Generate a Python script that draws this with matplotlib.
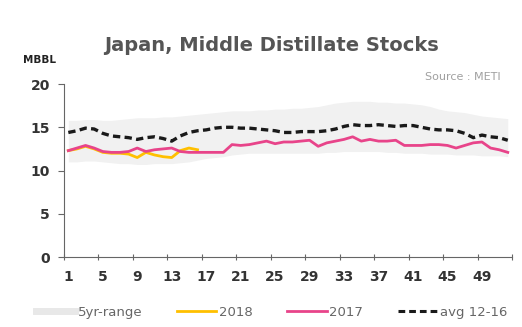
import matplotlib.pyplot as plt
from matplotlib.lines import Line2D

weeks = list(range(1, 53))

range_low = [11.0, 11.0, 11.1, 11.1, 11.0, 10.9, 10.8, 10.8, 10.7, 10.7, 10.8, 10.8, 10.8, 10.9,
             11.0, 11.2, 11.4, 11.5, 11.6, 11.8, 11.9, 12.0, 12.0, 12.0, 12.0, 12.0, 12.0, 12.0,
             12.0, 12.0, 12.1, 12.1, 12.2, 12.2, 12.2, 12.2, 12.2, 12.1, 12.1, 12.0, 12.0, 12.0,
             11.9, 11.9, 11.9, 11.8, 11.8, 11.8, 11.7, 11.7, 11.7, 11.6]
range_high = [15.8, 15.8, 15.9, 15.9, 15.8, 15.8, 15.9, 16.0, 16.1, 16.1, 16.1, 16.2, 16.2, 16.3,
              16.4, 16.5, 16.6, 16.7, 16.8, 16.9, 16.9, 16.9, 17.0, 17.0, 17.1, 17.1, 17.2, 17.2,
              17.3, 17.4, 17.6, 17.8, 17.9, 18.0, 18.0, 18.0, 17.9, 17.9, 17.8, 17.8, 17.7, 17.6,
              17.4, 17.1, 16.9, 16.8, 16.7, 16.5, 16.3, 16.2, 16.1, 16.0]

stocks_2018 = [12.3, 12.5, 12.8, 12.5, 12.1, 12.0, 12.0, 11.9, 11.5, 12.1, 11.8, 11.6, 11.5, 12.3,
               12.6, 12.4]

stocks_2017 = [12.3, 12.6, 12.9, 12.6, 12.2, 12.1, 12.1, 12.2, 12.6, 12.2, 12.4, 12.5, 12.6, 12.2,
               12.1, 12.1, 12.1, 12.1, 12.1, 13.0, 12.9, 13.0, 13.2, 13.4, 13.1, 13.3, 13.3, 13.4,
               13.5, 12.8, 13.2, 13.4, 13.6, 13.9, 13.4, 13.6, 13.4, 13.4, 13.5, 12.9, 12.9, 12.9,
               13.0, 13.0, 12.9, 12.6, 12.9, 13.2, 13.3, 12.6, 12.4, 12.1]

avg_12_16 = [14.4, 14.6, 14.9, 14.8, 14.3, 14.0, 13.9, 13.8, 13.6, 13.8, 13.9, 13.7, 13.4, 14.0,
             14.4, 14.6, 14.7, 14.9, 15.0, 15.0, 14.9, 14.9, 14.8, 14.7, 14.6, 14.4, 14.4, 14.5,
             14.5, 14.5, 14.6, 14.8, 15.1, 15.3, 15.2, 15.2, 15.3, 15.2, 15.1, 15.2, 15.2, 15.0,
             14.8, 14.7, 14.7, 14.6, 14.3, 13.8, 14.1, 13.9, 13.8, 13.5]

week_labels = [1, 5, 9, 13, 17, 21, 25, 29, 33, 37, 41, 45, 49]

band_c = "#f1f1f1"
c2018 = "#ffc000"
c2017 = "#e8448a"
text_c = "#555555"

fig = plt.figure(figsize=(5.22, 3.27), dpi=100)
ax = fig.add_axes([0.1226, 0.214, 0.8584, 0.529])

ax.fill_between(weeks, range_low, range_high, color=band_c, lw=0)
ax.plot(weeks[:len(stocks_2018)], stocks_2018, color=c2018, lw=2)
ax.plot(weeks, stocks_2017, color=c2017, lw=2)
ax.plot(weeks, avg_12_16, color="#1a1a1a", lw=2.4, dashes=(2.2, 1.3))

ax.set_xlim(0.5, 52.5)
ax.set_ylim(0, 20)
ax.set_yticks([0, 5, 10, 15, 20])
ax.set_xticks([w - 0.5 for w in week_labels] + [52.5])
ax.set_xticklabels([])
ax.set_xticks(week_labels, minor=True)
ax.set_xticklabels([str(w) for w in week_labels], minor=True)
ax.tick_params(axis="x", which="minor", length=0, pad=9)
ax.tick_params(axis="x", which="major", length=4, direction="inout", color="#666666")
ax.tick_params(axis="y", length=4, color="#666666", pad=6)
for lbl in ax.get_xticklabels(minor=True) + ax.get_yticklabels():
    lbl.set_fontweight("bold")
    lbl.set_fontsize(10)
    lbl.set_color("#333333")

for s in ["top", "right"]:
    ax.spines[s].set_visible(False)
ax.spines["left"].set_color("#666666")
ax.spines["bottom"].set_color("#666666")

fig.text(0.52, 0.862, "Japan, Middle Distillate Stocks", ha="center", va="center",
         fontsize=14, fontweight="bold", color=text_c)
fig.text(0.96, 0.765, "Source : METI", ha="right", va="center", fontsize=8, color="#a0a0a0")
fig.text(0.075, 0.815, "MBBL", ha="center", va="center", fontsize=7.5, fontweight="bold",
         color="#222222")

handles = [
    Line2D([], [], color="#e8e8e8", lw=5),
    Line2D([], [], color=c2018, lw=2),
    Line2D([], [], color=c2017, lw=2),
    Line2D([], [], color="#1a1a1a", lw=2.2, dashes=(2.2, 1.3)),
]
labels = ["5yr-range", "2018", "2017", "avg 12-16"]
leg = fig.legend(handles, labels, loc="center", bbox_to_anchor=(0.52, 0.045), ncol=4,
                 frameon=False, fontsize=9.5, handlelength=3.0, handletextpad=0.2,
                 columnspacing=2.6)
for t in leg.get_texts():
    t.set_color("#666666")

fig.savefig("out.png", dpi=100)
